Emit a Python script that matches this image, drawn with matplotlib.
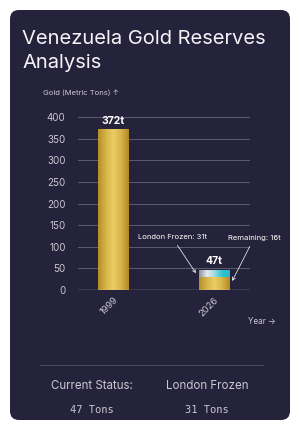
import matplotlib

matplotlib.use("Agg")
import matplotlib.pyplot as plt
import numpy as np
from matplotlib.colors import LinearSegmentedColormap
from matplotlib.patches import FancyBboxPatch

plt.rcParams["font.family"] = ["Inter", "DejaVu Sans"]

years = ["1999", "2026"]
gold_base = [372, 31]      # gold segment
gold_top = [0, 16]         # top segment (2026 only)
totals = [372, 47]
notes = ["London Frozen: 31t", "Remaining: 16t"]
stat_names = ["Current Status:", "London Frozen"]
stat_values = ["47 Tons", "31 Tons"]
yticks = [0, 50, 100, 150, 200, 250, 300, 350, 400]

CARD = "#25223b"
TXT = "#c9c8d2"

fig = plt.figure(figsize=(3.0, 4.24), dpi=100)
fig.patch.set_facecolor("white")
card = FancyBboxPatch((10 / 300, 4 / 424), 280 / 300, 410 / 424,
                      boxstyle="round,pad=0,rounding_size=0.03",
                      transform=fig.transFigure, facecolor=CARD, edgecolor="none",
                      mutation_aspect=300 / 424, zorder=-5)
fig.patches.append(card)

fig.text(22 / 300, 1 - 51 / 424, "Venezuela Gold Reserves\nAnalysis", color="#f4f4f6",
         fontsize=14.5, ha="left", va="center", linespacing=1.45)
fig.text(43 / 300, 1 - 93 / 424, "Gold (Metric Tons) ↑", color=TXT, fontsize=5.5,
         ha="left", va="center")
fig.text(262 / 300, 1 - 321 / 424, "Year →", color=TXT, fontsize=5.8,
         ha="center", va="center")

ax = fig.add_axes([78 / 300, 1 - 290 / 424, 172 / 300, 173 / 424], zorder=2)
ax.set_facecolor("none")
for s in ax.spines.values():
    s.set_visible(False)
ax.set_yticks(yticks)
ax.tick_params(axis="y", length=0, pad=9, labelsize=7, labelcolor=TXT)
ax.tick_params(axis="x", length=0, pad=4, labelsize=6.8, labelcolor=TXT)
x = np.arange(len(years))
ax.set_xticks(x)
ax.set_xticklabels(years, rotation=45, ha="right", rotation_mode="anchor")
for t in yticks[1:]:
    ax.axhline(t, color="#5d5b72", lw=0.7, zorder=0)
ax.axhline(0, color="#d6d5de", lw=0.9, zorder=3)

gold_cmap = LinearSegmentedColormap.from_list(
    "gold", ["#b48f2c", "#d8b447", "#ebcd66", "#d8b447", "#b08a28"])
top_cmap = LinearSegmentedColormap.from_list(
    "silver", ["#8e939c", "#e6eaee", "#9fdbe2", "#2fc3d4", "#2ab8c8"])
grad = np.linspace(0, 1, 64).reshape(1, -1)

w = 0.3
bars_gold = ax.bar(x, gold_base, width=w, color="none", zorder=2)
bars_top = ax.bar(x, gold_top, width=w, bottom=gold_base, color="none", zorder=2)
for bars, cmap in [(bars_gold, gold_cmap), (bars_top, top_cmap)]:
    for b in bars:
        if b.get_height() <= 0:
            continue
        x0, y0 = b.get_x(), b.get_y()
        im = ax.imshow(grad, cmap=cmap, aspect="auto", zorder=2,
                       extent=[x0, x0 + b.get_width(), y0, y0 + b.get_height()])
        im.set_clip_path(b)
ax.set_xlim(-0.347, 1.356)
ax.set_ylim(0, 400)

for xi, v in zip(x, totals):
    ax.text(xi, v + 8, f"{v}t", color="white", fontsize=7.5, fontweight="bold",
            ha="center", va="bottom", zorder=4)

ax.annotate(notes[0], xy=(x[1] - 0.18, 39), xytext=(x[1] - 0.416, 122),
            color="white", fontsize=5.5, ha="center", va="center",
            arrowprops=dict(arrowstyle="->", color="white", lw=0.5, shrinkB=0),
            annotation_clip=False)
ax.annotate(notes[1], xy=(x[1] + 0.18, 21), xytext=(x[1] + 0.396, 120),
            color="white", fontsize=5.5, ha="center", va="center",
            arrowprops=dict(arrowstyle="->", color="white", lw=0.5, shrinkB=0),
            annotation_clip=False)

fig.add_artist(plt.Line2D([40 / 300, 263 / 300], [1 - 365 / 424] * 2,
                          transform=fig.transFigure, color="#4a4862", lw=0.7))
for cx, name, val in zip([92, 207], stat_names, stat_values):
    fig.text(cx / 300, 1 - 386 / 424, name, color=TXT, fontsize=8.3,
             ha="center", va="center")
    fig.text(cx / 300, 1 - 410 / 424, val, color=TXT, fontsize=7.5,
             family="DejaVu Sans Mono", ha="center", va="center")

fig.savefig("out.png", dpi=100, facecolor="white")
